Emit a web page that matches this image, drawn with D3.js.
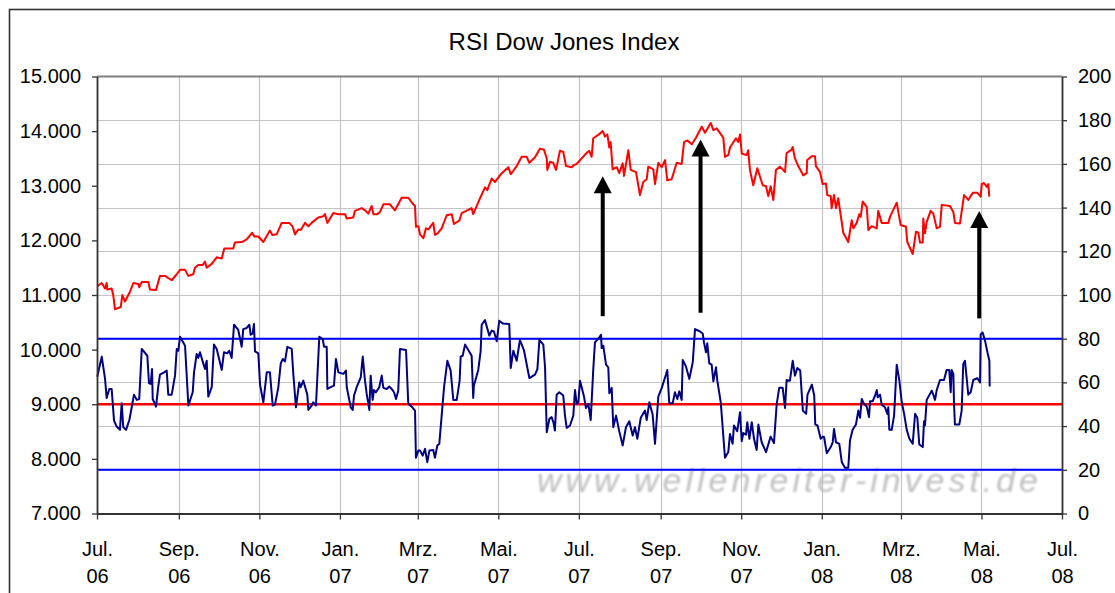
<!DOCTYPE html>
<html>
<head>
<meta charset="utf-8">
<script src="https://cdn.jsdelivr.net/npm/d3@7/dist/d3.min.js"></script>
<style>
  html, body { margin: 0; padding: 0; background: #fff; }
  svg { display: block; font-family: "Liberation Sans", Arial, sans-serif; }
</style>
</head>
<body>
<svg id="chart" width="1115" height="593"></svg>
<script>
// ---------- DATA ----------
const title = "RSI Dow Jones Index";
const startDate = "2006-07-01";            // day 0 of the day offsets below
const endDate = "2008-07-01";
// Dow Jones Industrial Average (left axis), day offsets since startDate
const djDay = [0.2,3.6,6.1,7.3,7.8,11.1,12.3,13.6,18.0,19.2,21.2,25.0,27.5,31.3,32.0,33.9,38.9,40.1,44.7,47.7,51.5,56.6,60.4,62.9,66.7,69.2,72.9,74.2,76.7,80.1,81.8,83.1,86.9,90.7,94.5,96.4,103.2,104.5,109.6,113.4,117.6,119.2,122.2,126.0,131.0,132.8,136.1,139.9,145.7,148.2,150.0,152.5,154.3,157.6,160.1,162.6,167.6,171.4,172.7,174.5,179.0,182.8,187.9,189.2,194.1,195.4,200.5,203.0,205.5,208.1,209.3,212.3,214.4,216.9,221.9,225.7,230.8,235.8,239.6,240.9,241.6,243.4,244.7,247.2,249.2,251.0,254.7,256.0,258.5,261.1,264.9,268.7,270.4,274.4,276.3,283.8,285.0,290.1,293.9,295.6,299.0,301.5,306.6,311.6,313.4,317.9,321.7,325.5,327.5,331.8,335.6,338.6,340.7,341.1,343.1,345.6,347.7,350.7,353.2,355.3,359.6,361.3,363.4,365.9,370.9,372.9,374.7,375.9,379.7,383.1,384.8,386.6,388.1,389.1,390.6,393.7,395.6,398.2,399.2,402.5,404.3,408.3,411.3,413.8,416.4,417.6,421.4,422.7,425.2,427.8,430.3,432.0,435.3,439.1,442.9,444.7,447.2,450.5,453.7,458.1,460.6,464.9,466.9,469.4,474.4,475.7,478.2,479.5,484.0,485.8,487.1,488.4,492.1,493.3,494.6,497.1,500.2,504.3,506.8,508.5,510.3,512.3,514.3,517.4,521.2,522.4,526.2,527.0,528.7,531.2,535.0,537.6,538.0,541.4,543.9,544.6,547.7,549.7,552.2,553.2,555.8,556.5,558.3,559.8,561.5,565.3,569.1,571.7,572.9,575.5,577.4,578.5,580.0,583.1,584.3,586.8,590.6,591.8,594.4,599.4,600.7,605.8,608.8,612.8,613.8,617.9,620.4,622.2,623.4,625.5,625.9,627.2,628.5,631.5,633.5,636.1,638.6,639.9,646.1,648.7,649.9,653.7,656.8,660.0,663.4,666.9,669.4,670.2,671.9,674.0,675.2,675.9];
const djValue = [11160,11220,11120,11220,11100,11120,11000,10740,10780,11000,10880,11060,11220,11200,11140,11240,11240,11100,11090,11350,11350,11270,11380,11460,11460,11350,11380,11500,11550,11550,11610,11500,11570,11690,11670,11850,11850,11960,11970,12020,12140,12070,12070,11970,12180,12100,12110,12320,12320,12250,12110,12200,12190,12320,12260,12320,12420,12440,12480,12320,12500,12480,12480,12400,12420,12540,12590,12550,12490,12630,12480,12480,12520,12660,12660,12550,12780,12780,12660,12630,12250,12260,12110,12040,12220,12200,12320,12100,12140,12220,12460,12480,12300,12360,12500,12590,12480,12770,12970,12920,13130,13070,13230,13340,13210,13360,13530,13530,13420,13520,13680,13660,13500,13290,13440,13420,13290,13640,13620,13360,13340,13380,13400,13470,13600,13640,13530,13870,13930,14000,13900,13940,13700,13800,13300,13340,13230,13410,13180,13650,13290,13250,12830,13070,13120,13350,13300,13030,13420,13340,13470,13100,13120,13420,13400,13800,13830,13760,13880,14080,13970,14150,14020,14050,13880,13530,13560,13700,13870,13800,13940,13590,13560,13650,13290,13010,13320,13010,12990,12810,12990,12740,13290,13350,13250,13600,13660,13710,13500,13360,13190,13230,13470,13540,13540,13360,13250,13030,13040,12830,12810,12590,12830,12590,12770,12140,11970,12370,12220,12320,12480,12430,12710,12610,12190,12260,12220,12540,12320,12320,12430,12690,12280,12250,11970,11750,12160,12140,11960,11960,12400,12130,12340,12540,12490,12220,12250,12650,12630,12520,12320,12310,12830,12740,12870,12870,12800,13030,13050,12980,13030,12800];
// RSI (right axis), day offsets since startDate
const rsiDay = [0.2,3.6,6.1,7.3,9.3,11.1,12.9,14.9,17.4,18.7,19.9,22.0,24.5,26.3,28.0,30.1,32.0,33.9,38.1,39.4,40.7,41.7,42.2,44.7,46.4,47.7,50.8,52.8,54.0,56.6,59.1,60.4,61.6,62.9,66.7,69.2,72.5,73.5,75.5,76.7,78.0,80.5,81.8,83.1,84.3,86.9,88.6,90.7,94.5,96.2,98.7,100.2,102.0,103.8,107.0,109.6,110.8,113.4,115.4,116.4,117.9,118.9,119.7,122.2,123.5,126.0,128.6,131.0,133.1,134.8,137.3,139.2,140.7,142.4,144.2,147.5,148.7,150.7,153.2,154.3,156.3,159.3,160.1,162.6,163.8,165.9,166.4,168.4,171.0,172.0,174.0,174.5,177.0,179.5,181.0,182.8,186.6,188.6,189.2,192.2,193.7,194.7,196.7,199.8,201.3,203.0,204.3,206.3,207.3,208.8,209.8,211.3,213.8,215.7,216.9,219.5,221.4,223.2,225.0,226.5,228.2,229.5,234.1,235.8,238.4,240.9,241.6,243.4,244.7,246.7,248.5,250.2,251.8,254.7,256.0,257.8,259.3,262.9,265.4,267.9,269.9,272.5,274.7,275.5,277.0,278.8,283.8,285.0,285.5,288.8,290.6,291.4,293.9,297.2,299.0,300.7,302.8,304.7,307.3,312.3,313.4,315.4,317.9,320.4,323.5,327.5,331.8,333.6,335.1,338.1,339.4,340.7,342.7,344.4,345.7,346.9,348.2,350.2,353.2,354.5,355.8,358.3,360.8,362.1,363.4,364.6,365.9,368.9,370.4,372.2,374.0,375.9,377.2,380.5,381.8,382.3,383.5,385.6,387.3,388.1,389.9,391.1,393.2,395.6,398.2,400.7,403.2,405.8,407.5,409.3,411.9,415.1,416.4,418.4,420.9,422.7,425.2,427.8,431.0,432.0,433.5,436.1,437.8,439.6,441.1,442.9,443.7,446.2,448.7,451.3,453.0,456.8,458.8,459.8,461.3,462.3,463.8,465.6,466.9,468.9,469.9,472.5,475.7,478.2,479.5,481.5,482.5,485.0,487.1,488.4,489.6,491.6,492.6,494.2,496.0,497.7,499.7,501.0,503.5,506.8,510.3,512.8,514.9,516.8,519.4,521.2,522.4,524.9,527.0,528.7,530.5,532.7,534.7,537.2,538.2,541.5,543.3,544.1,545.8,548.2,549.8,550.8,552.8,555.8,557.3,558.3,559.8,562.3,564.2,566.6,569.1,570.4,572.4,574.9,576.7,578.0,579.3,581.0,583.1,584.8,585.6,587.6,589.4,590.7,591.4,593.2,594.4,596.9,598.7,599.4,600.2,602.0,603.8,605.8,607.8,609.6,611.4,613.4,615.4,617.9,619.7,621.4,622.9,625.5,626.5,627.2,628.5,632.3,633.5,634.8,636.1,638.6,641.6,643.6,645.6,646.7,647.4,648.7,649.2,649.9,653.2,655.0,656.2,657.5,660.0,661.8,663.8,666.8,668.9,669.4,670.9,672.7,674.5,676.0,676.2];
const rsiValue = [62.6,71.8,61.6,52.9,57.0,57.0,42.5,39.8,38.3,50.5,39.5,38.3,42.8,48.6,54.4,52.0,52.4,75.3,72.2,59.6,59.3,66.1,52.4,48.9,58.1,63.6,64.6,65.4,54.4,54.4,63.1,75.3,74.5,80.9,76.8,49.4,55.5,64.6,73.0,71.2,73.8,68.7,66.1,69.9,53.5,57.8,77.3,75.3,65.7,73.8,73.3,74.5,71.2,86.4,84.0,76.3,84.4,84.9,86.4,81.8,82.4,86.7,74.2,73.3,59.0,50.9,64.6,64.6,49.4,49.8,57.5,68.7,70.7,69.6,76.3,75.3,63.9,48.6,60.0,57.8,60.8,54.4,47.4,49.4,50.9,49.4,56.2,80.9,79.8,76.3,76.3,57.0,57.8,58.5,70.7,64.6,63.9,65.4,57.8,48.6,47.4,54.0,57.8,62.3,71.8,60.8,54.7,47.4,63.1,52.0,56.5,55.5,57.8,63.1,57.5,57.0,58.1,57.0,55.5,52.4,56.2,75.3,74.8,50.2,48.9,47.1,25.5,28.8,28.8,26.5,29.6,23.5,28.8,29.1,25.5,31.1,31.9,57.8,69.9,65.4,52.0,52.0,60.8,71.8,72.2,77.3,72.2,52.9,58.5,65.7,74.2,86.4,88.5,81.4,83.7,83.3,78.8,88.2,87.0,86.7,66.6,74.5,69.9,79.4,74.5,62.0,63.6,66.1,79.4,77.3,66.9,37.2,43.3,44.1,41.8,38.0,54.4,55.5,54.0,44.8,39.2,40.3,44.8,56.5,50.2,50.9,60.8,53.5,48.3,50.2,42.8,65.7,78.3,80.6,81.8,75.7,76.8,68.1,66.9,55.0,57.5,39.5,44.8,37.7,31.1,39.5,42.2,35.7,39.5,34.2,43.8,47.1,42.8,50.9,45.3,31.9,53.5,57.5,63.6,65.7,50.5,50.5,55.5,52.4,55.9,52.0,70.3,67.2,61.6,69.2,84.4,83.3,82.4,78.3,73.8,77.9,68.7,68.1,60.5,66.9,60.8,50.9,25.5,28.1,36.4,31.9,40.3,37.7,46.3,33.1,36.8,36.1,41.8,34.2,41.8,34.2,29.1,40.7,32.6,28.1,35.2,32.2,50.2,57.5,57.5,48.3,61.1,60.8,69.9,63.1,66.6,65.4,47.1,45.6,54.4,59.0,54.0,40.7,40.3,34.2,35.2,34.9,27.6,30.4,32.6,38.7,32.6,31.9,23.5,20.9,20.9,33.4,38.3,40.7,47.1,43.8,52.4,50.2,48.9,44.1,51.4,51.4,54.0,56.5,53.2,54.4,49.8,48.6,45.6,48.6,38.3,38.3,44.8,68.1,60.8,50.9,45.6,38.3,34.2,31.9,45.6,43.8,31.6,30.4,42.2,40.3,52.0,56.2,54.4,52.0,56.5,61.1,61.1,65.7,65.7,55.5,65.7,63.9,50.2,40.7,40.7,47.1,68.4,69.9,54.4,55.5,61.1,62.0,60.0,82.0,82.8,79.1,73.8,69.9,58.1];
// RSI reference levels
const rsiLevels = [80, 50, 20];
const rsiLevelColors = ["#0000ff", "#ff0000", "#0000ff"];
// Axis ticks
const leftTicks = [7000, 8000, 9000, 10000, 11000, 12000, 13000, 14000, 15000];
const rightTicks = [0, 20, 40, 60, 80, 100, 120, 140, 160, 180, 200];
const xMonthLabels = ["Jul.", "Sep.", "Nov.", "Jan.", "Mrz.", "Mai.", "Jul.", "Sep.", "Nov.", "Jan.", "Mrz.", "Mai.", "Jul."];
const xYearLabels  = ["06", "06", "06", "07", "07", "07", "07", "07", "07", "08", "08", "08", "08"];
// Arrows (day offset, from RSI-axis value, to RSI-axis value)
const arrowDay  = [383.1, 457.2, 668.3];
const arrowFrom = [90.3, 91.9, 89.3];
const arrowTo   = [154.4, 171.2, 138.5];
const watermark = "www.wellenreiter-invest.de";

// ---------- CHART ----------
const svg = d3.select("#chart");
const plot = { left: 97, right: 1062, top: 76.5, bottom: 513.5 };

const t0 = new Date(startDate + "T00:00:00");
const t1 = new Date(endDate + "T00:00:00");
const dayToDate = d => new Date(t0.getTime() + d * 864e5);

const x = d3.scaleTime().domain([t0, t1]).range([plot.left, plot.right]);
const yL = d3.scaleLinear().domain([7000, 15000]).range([plot.bottom, plot.top]);
const yR = d3.scaleLinear().domain([0, 200]).range([plot.bottom, plot.top]);

const de = d3.formatLocale({ decimal: ",", thousands: ".", grouping: [3], currency: ["", " €"] });
const fmtL = de.format(",.0f");

// outer frame
svg.append("rect").attr("x", 9.5).attr("y", 9.5).attr("width", 1200).attr("height", 700)
  .attr("fill", "#fff").attr("stroke", "#333").attr("stroke-width", 1.6);

// title
svg.append("text").attr("x", 564).attr("y", 50).attr("text-anchor", "middle")
  .attr("font-size", 24).attr("fill", "#000").text(title);

const xTicks = d3.timeMonth.every(2).range(t0, d3.timeDay.offset(t1, 1));

// gridlines
const grid = svg.append("g").attr("stroke", "#c4c4c4").attr("stroke-width", 1.2);
grid.selectAll("line.h").data(rightTicks.filter(v => v > 0 && v < 200)).join("line")
  .attr("x1", plot.left).attr("x2", plot.right)
  .attr("y1", d => Math.round(yR(d)) + 0.5).attr("y2", d => Math.round(yR(d)) + 0.5);
grid.selectAll("line.v").data(xTicks.slice(1, -1)).join("line")
  .attr("x1", d => Math.round(x(d)) + 0.5).attr("x2", d => Math.round(x(d)) + 0.5)
  .attr("y1", plot.top).attr("y2", plot.bottom);

// watermark
const defs = svg.append("defs");
defs.append("filter").attr("id", "blur").append("feGaussianBlur").attr("stdDeviation", 0.9);
svg.append("text").attr("x", 537).attr("y", 492).attr("font-size", 34)
  .attr("font-style", "italic").attr("fill", "#bfbfbf").attr("filter", "url(#blur)")
  .attr("textLength", 501).attr("lengthAdjust", "spacing").text(watermark);

// RSI level lines
svg.append("g").selectAll("line").data(rsiLevels).join("line")
  .attr("x1", plot.left).attr("x2", plot.right)
  .attr("y1", d => yR(d)).attr("y2", d => yR(d))
  .attr("stroke", (d, i) => rsiLevelColors[i]).attr("stroke-width", (d, i) => i === 1 ? 2.6 : 2);

// plot border top
svg.append("line").attr("x1", plot.left).attr("x2", plot.right).attr("y1", plot.top).attr("y2", plot.top)
  .attr("stroke", "#808080").attr("stroke-width", 2);

// data lines
const djData = djDay.map((d, i) => ({ date: dayToDate(d), v: djValue[i] }));
const rsiData = rsiDay.map((d, i) => ({ date: dayToDate(d), v: rsiValue[i] }));

svg.append("path").datum(djData)
  .attr("d", d3.line().x(d => x(d.date)).y(d => yL(d.v)))
  .attr("fill", "none").attr("stroke", "#ff0000").attr("stroke-width", 2).attr("stroke-linejoin", "round");
svg.append("path").datum(rsiData)
  .attr("d", d3.line().x(d => x(d.date)).y(d => yR(d.v)))
  .attr("fill", "none").attr("stroke", "#000080").attr("stroke-width", 2).attr("stroke-linejoin", "round");

// axes
const axisStyle = g => {
  g.selectAll("path.domain").attr("stroke", "#333").attr("stroke-width", 1.8);
  g.selectAll(".tick line").attr("stroke", "#333").attr("stroke-width", 1.3);
  g.selectAll(".tick text").attr("font-size", 20).attr("fill", "#000")
    .attr("font-family", "'Liberation Sans', Arial, sans-serif");
};
svg.append("g").attr("transform", `translate(${plot.left},0)`)
  .call(d3.axisLeft(yL).tickValues(leftTicks).tickFormat(fmtL).tickSize(5).tickSizeOuter(0).tickPadding(11))
  .call(axisStyle);
svg.append("g").attr("transform", `translate(${plot.right},0)`)
  .call(d3.axisRight(yR).tickValues(rightTicks).tickFormat(d3.format("d")).tickSize(5).tickSizeOuter(0).tickPadding(11))
  .call(axisStyle);
const xAxis = svg.append("g").attr("transform", `translate(0,${plot.bottom})`)
  .call(d3.axisBottom(x).tickValues(xTicks).tickFormat("").tickSize(6).tickSizeOuter(0))
  .call(axisStyle);
xAxis.selectAll(".tick").append("text")
  .attr("text-anchor", "middle").attr("font-size", 20).attr("fill", "#000")
  .attr("font-family", "'Liberation Sans', Arial, sans-serif")
  .each(function (d, i) {
    const t = d3.select(this);
    t.append("tspan").attr("x", 0).attr("y", 42).text(xMonthLabels[i]);
    t.append("tspan").attr("x", 0).attr("y", 69).text(xYearLabels[i]);
  });

// arrows
const headLen = 17, headHalf = 9;
const arrows = svg.append("g");
arrowDay.forEach((d, i) => {
  const ax = x(dayToDate(d));
  const yb = yR(arrowFrom[i]), yt = yR(arrowTo[i]);
  arrows.append("line").attr("x1", ax).attr("x2", ax).attr("y1", yb).attr("y2", yt + headLen - 1)
    .attr("stroke", "#000").attr("stroke-width", 4);
  arrows.append("path")
    .attr("d", `M${ax},${yt} L${ax - headHalf},${yt + headLen} L${ax + headHalf},${yt + headLen} Z`)
    .attr("fill", "#000");
});
</script>
</body>
</html>
